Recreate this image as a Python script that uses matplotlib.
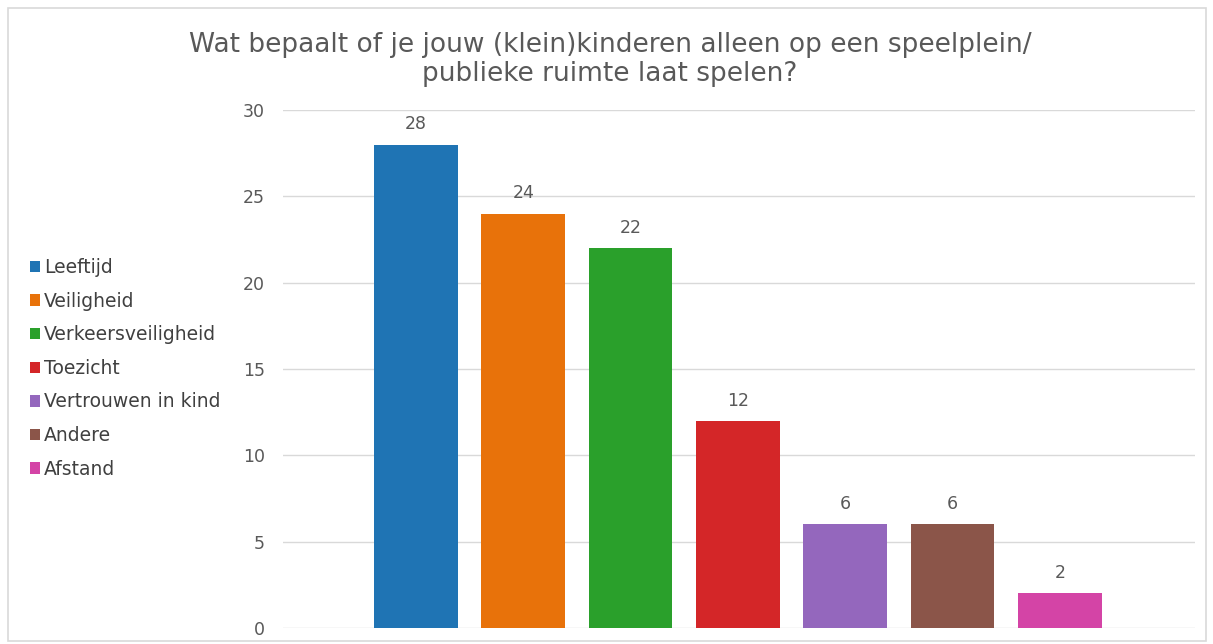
import matplotlib.pyplot as plt
from matplotlib.patches import Rectangle

plt.rcParams['font.family'] = ['DejaVu Sans']

# data
categories = ["Leeftijd", "Veiligheid", "Verkeersveiligheid", "Toezicht",
              "Vertrouwen in kind", "Andere", "Afstand"]
counts = [28, 24, 22, 12, 6, 6, 2]
colors = ["#1f74b4", "#e8720a", "#2aa02b", "#d42628",
          "#9467bd", "#8b5549", "#d444a6"]
title = "Wat bepaalt of je jouw (klein)kinderen alleen op een speelplein/\npublieke ruimte laat spelen?"

txt = "#595959"
fig = plt.figure(figsize=(12.13, 6.44), dpi=100)
ax = fig.add_axes([0.2333, 0.0248, 0.7519, 0.8043])

x = list(range(len(categories)))
bars = ax.bar(x, counts, width=0.78, color=colors, zorder=3)
for xi, v in zip(x, counts):
    ax.text(xi, v + 0.65, str(v), ha="center", va="bottom", fontsize=12.5, color=txt)

ax.set_xlim(-1.24, 7.26)
ax.set_ylim(0, 30)
ax.set_yticks(range(0, 31, 5))
ax.set_xticks([])
ax.grid(axis="y", color="#d9d9d9", linewidth=1, zorder=0)
for s in ax.spines.values():
    s.set_visible(False)
ax.tick_params(axis="y", length=0, pad=13, labelsize=12.5, labelcolor=txt)

fig.text(0.503, 0.950, title, ha="center", va="top", fontsize=19, color=txt,
         linespacing=1.15)

fig.legend(bars, categories, loc="center left", bbox_to_anchor=(0.0245, 0.428),
           frameon=False, fontsize=13.5, handlelength=0.55, handleheight=0.55,
           handletextpad=0.2, labelspacing=0.78, labelcolor="#404040",
           borderaxespad=0, borderpad=0)

fig.patches.append(Rectangle((0.0066, 0.0047), 0.9876, 0.9829, transform=fig.transFigure,
                             fill=False, edgecolor="#d9d9d9", linewidth=1.2))

fig.savefig("out.png", dpi=100)
plt.close(fig)
